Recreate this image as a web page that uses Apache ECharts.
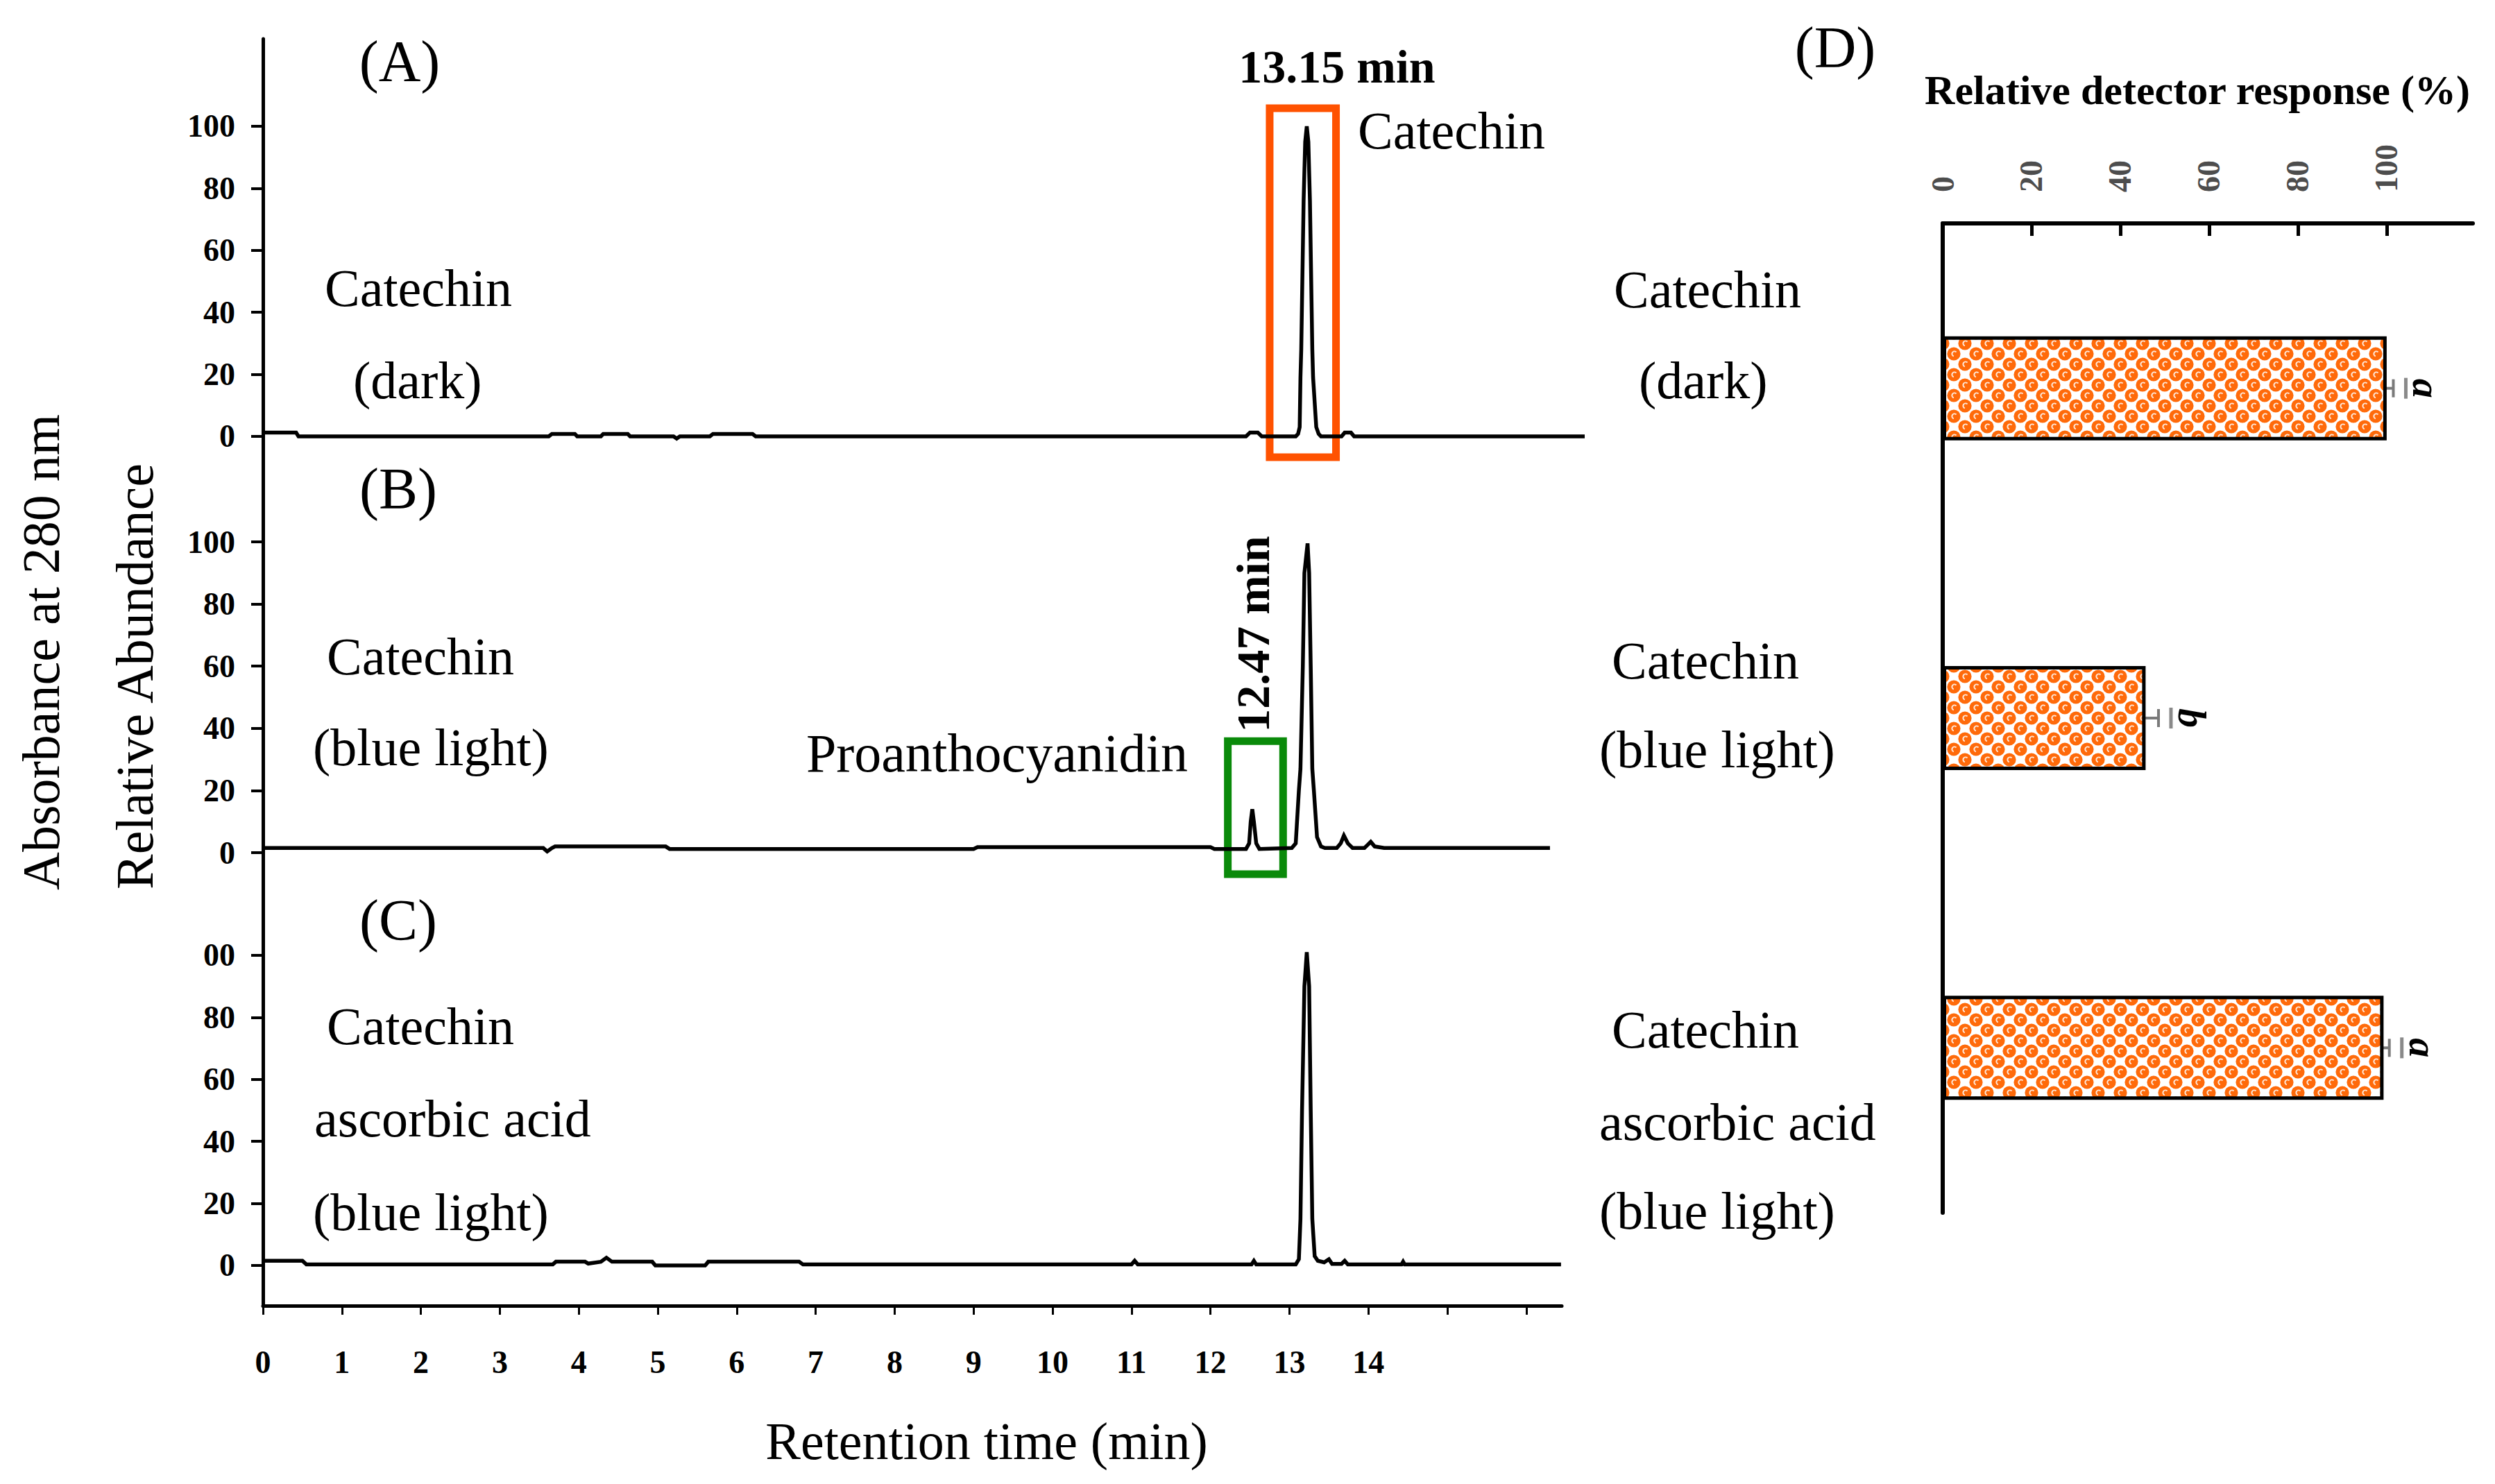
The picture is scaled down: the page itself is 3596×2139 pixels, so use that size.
<!DOCTYPE html>
<html>
<head>
<meta charset="utf-8">
<script src="https://cdn.jsdelivr.net/npm/echarts@6/dist/echarts.min.js"></script>
<style>
html,body{margin:0;padding:0;background:#fff;}
#chart{width:3596px;height:2139px;}
</style>
</head>
<body>
<div id="chart"></div>
<script>
// ---------------- DATA ----------------
// Chromatogram traces: [retention time (min), relative abundance]
const traceA = [
  [0,1.2],[0.42,1.2],[0.45,0],[3.62,0],[3.66,0.8],[3.95,0.8],[3.98,0],[4.28,0],[4.31,0.8],[4.62,0.8],[4.65,0],
  [5.2,0],[5.24,-0.7],[5.28,0],[5.66,0],[5.7,0.8],[6.2,0.8],[6.24,0],[12.45,0],[12.5,1.2],[12.6,1.2],[12.65,0],
  [13.08,0],[13.11,0.8],[13.13,3],[13.14,19],[13.15,28],[13.18,76],[13.2,95],[13.22,100],[13.24,95],[13.26,76],
  [13.29,28],[13.3,19],[13.34,3],[13.37,0.8],[13.4,0],[13.66,0],[13.7,1.2],[13.78,1.2],[13.82,0],[16.74,0]
];
const traceB = [
  [0,1.5],[3.55,1.5],[3.6,0.4],[3.66,1.5],[3.7,2.0],[5.1,2.0],[5.15,1.2],[9.0,1.2],[9.05,1.8],[12.0,1.8],[12.05,1.2],
  [12.45,1.2],[12.49,3],[12.51,10],[12.53,14],[12.55,10],[12.58,3],[12.62,1.2],[13.03,1.5],[13.08,3],[13.12,20],
  [13.14,27],[13.17,60],[13.19,90],[13.23,99.5],[13.25,90],[13.27,60],[13.29,27],[13.31,20],[13.35,5],[13.4,2],
  [13.45,1.5],[13.6,1.5],[13.65,3],[13.69,5.5],[13.74,3],[13.8,1.5],[13.95,1.5],[13.99,2.5],[14.03,3.5],[14.08,2],
  [14.2,1.5],[16.3,1.5]
];
const traceC = [
  [0,1.5],[0.5,1.5],[0.55,0.3],[3.67,0.3],[3.71,1.2],[4.08,1.2],[4.12,0.6],[4.28,1.2],[4.35,2.5],[4.42,1.2],
  [4.93,1.2],[4.97,0],[5.6,0],[5.64,1.2],[6.79,1.2],[6.84,0.3],[11.0,0.3],[11.04,1.5],[11.08,0.3],[12.52,0.3],
  [12.55,1.5],[12.58,0.3],[13.08,0.3],[13.12,2],[13.14,15],[13.16,50],[13.19,90],[13.22,101],[13.25,90],[13.27,50],
  [13.29,15],[13.32,3],[13.36,1.5],[13.44,1],[13.5,2],[13.54,0.5],[13.66,0.5],[13.7,1.5],[13.74,0.3],[14.42,0.3],
  [14.44,1.2],[14.46,0.3],[16.44,0.3]
];
// Highlight boxes [t1, v1, t2, v2]
const boxA = [12.75, 105.8, 13.59, -6.7];
const boxB = [12.22, 35.9, 12.92, -6.9];

// Axis ticks / labels
const xTickValues = [0,1,2,3,4,5,6,7,8,9,10,11,12,13,14,15,16];
const xLabelValues = [0,1,2,3,4,5,6,7,8,9,10,11,12,13,14];
const yTickValues = [0,20,40,60,80,100];
const yTickLabelsAB = ['0','20','40','60','80','100'];
const yTickLabelsC = ['0','20','40','60','80','00'];

// Panel D bar chart
const dCategories = ['Catechin (dark)', 'Catechin (blue light)', 'Catechin ascorbic acid (blue light)'];
const dLabelLines = [['Catechin','(dark)'], ['Catechin','(blue light)'], ['Catechin','ascorbic acid','(blue light)']];
const dValues = [100, 45.7, 99.3];
const dErrors = [1.5, 2.9, 1.3];
const dLetters = ['a', 'b', 'a'];
const dTickValues = [0,20,40,60,80,100];

// ---------------- STYLE ----------------
const SERIF = "'Liberation Serif','Times New Roman',serif";
const chart = echarts.init(document.getElementById('chart'), null, {renderer: 'svg'});

// dotted orange fill tile
function makeTile() {
  const c = document.createElement('canvas');
  c.width = 32; c.height = 30;
  const g = c.getContext('2d');
  g.fillStyle = '#ffffff';
  g.fillRect(0, 0, 32, 30);
  const centers = [[0,0],[32,0],[0,30],[32,30],[16,15]];
  centers.forEach(function (p) {
    g.beginPath(); g.arc(p[0], p[1], 9.6, 0, Math.PI * 2);
    g.fillStyle = '#FF6A0A'; g.fill();
    g.beginPath(); g.arc(p[0] + 1, p[1], 3.6, Math.PI * 0.6, Math.PI * 1.75);
    g.strokeStyle = 'rgba(255,255,255,0.85)'; g.lineWidth = 2; g.stroke();
  });
  return c;
}
const tile = makeTile();

function txt(text, x, y, size, opt) {
  opt = opt || {};
  return {
    type: 'text', x: x, y: y, rotation: opt.rot || 0, silent: true,
    style: {
      text: text, fontSize: size, fontFamily: SERIF,
      fontWeight: opt.bold ? 'bold' : 'normal', fontStyle: 'normal',
      fill: '#000', align: opt.align || 'left', verticalAlign: 'middle'
    }
  };
}

const graphics = [
  txt('(A)', 576, 88, 84, {align: 'center'}),
  txt('13.15 min', 1927, 96, 68, {align: 'center', bold: true}),
  txt('Catechin', 1957, 188, 76),
  txt(dLabelLines[0][0], 468, 415, 76),
  txt(dLabelLines[0][1], 509, 548, 76),
  txt('(B)', 574, 704, 84, {align: 'center'}),
  txt(dLabelLines[1][0], 471, 946, 76),
  txt(dLabelLines[1][1], 451, 1077, 76),
  txt('Proanthocyanidin', 1437, 1085, 78, {align: 'center'}),
  txt('12.47 min', 1806, 914, 68, {align: 'center', bold: true, rot: Math.PI / 2}),
  txt('(C)', 574, 1326, 84, {align: 'center'}),
  txt(dLabelLines[2][0], 471, 1479, 76),
  txt(dLabelLines[2][1], 453, 1612, 76),
  txt(dLabelLines[2][2], 451, 1747, 76),
  txt('Retention time (min)', 1422, 2077, 76, {align: 'center'}),
  txt('Absorbance at 280 nm', 59, 940, 76, {align: 'center', rot: Math.PI / 2}),
  txt('Relative Abundance', 194, 975, 76, {align: 'center', rot: Math.PI / 2}),
  txt('(D)', 2645, 68, 84, {align: 'center'}),
  txt(dLabelLines[0][0], 2326, 417, 76),
  txt(dLabelLines[0][1], 2362, 548, 76),
  txt(dLabelLines[1][0], 2323, 952, 76),
  txt(dLabelLines[1][1], 2305, 1080, 76),
  txt(dLabelLines[2][0], 2323, 1484, 76),
  txt(dLabelLines[2][1], 2305, 1617, 76),
  txt(dLabelLines[2][2], 2305, 1745, 76)
];

const PX = 113.8; // px per minute
const panelGrid = (top, h) => ({left: 379, top: top, width: 16.8 * PX, height: h});

function panelY(gi, labels) {
  return {
    type: 'value', gridIndex: gi, min: -12, max: 110,
    axisLine: {show: false},
    splitLine: {show: false},
    axisTick: {show: true, inside: false, length: 17, customValues: yTickValues,
               lineStyle: {color: '#000', width: 4}},
    axisLabel: {show: true, customValues: yTickValues, margin: 40,
                fontFamily: SERIF, fontWeight: 'bold', fontSize: 46, color: '#000',
                formatter: function (v) { const i = yTickValues.indexOf(v); return i >= 0 ? labels[i] : ''; }}
  };
}
function panelX(gi) {
  return {type: 'value', gridIndex: gi, min: 0, max: 16.8, show: false, splitLine: {show: false}};
}
function traceSeries(idx, data, box, boxColor) {
  const s = {
    type: 'line', xAxisIndex: idx, yAxisIndex: idx, data: data,
    showSymbol: false, symbol: 'none', silent: true, clip: false,
    lineStyle: {color: '#000', width: 5.5, join: 'miter'}
  };
  if (box) {
    s.markArea = {
      silent: true,
      itemStyle: {color: 'rgba(0,0,0,0)', borderColor: boxColor, borderWidth: 11},
      label: {show: false},
      data: [[{coord: [box[0], box[1]]}, {coord: [box[2], box[3]]}]]
    };
  }
  return s;
}

const option = {
  animation: false,
  backgroundColor: '#fff',
  grid: [
    {left: 379, top: 56, width: 16.45 * PX, height: 1826},
    panelGrid(137.3, 545.3),
    panelGrid(736.2, 546.6),
    panelGrid(1332.3, 545.3),
    {left: 2800, top: 322, width: 764, height: 1426}
  ],
  xAxis: [
    {
      type: 'value', gridIndex: 0, min: 0, max: 16.45, position: 'bottom',
      axisLine: {show: true, onZero: false, lineStyle: {color: '#000', width: 5}},
      splitLine: {show: false},
      axisTick: {show: true, inside: false, length: 13, customValues: xTickValues, lineStyle: {color: '#000', width: 3}},
      axisLabel: {show: true, customValues: xLabelValues, margin: 58,
                  fontFamily: SERIF, fontWeight: 'bold', fontSize: 46, color: '#000'}
    },
    panelX(1), panelX(2), panelX(3),
    {
      type: 'value', gridIndex: 4, min: 0, max: 119.4, position: 'top',
      name: 'Relative detector response (%)', nameLocation: 'middle', nameGap: 162,
      nameTextStyle: {fontFamily: SERIF, fontWeight: 'bold', fontSize: 60, color: '#000', padding: [0, 30, 0, 0]},
      axisLine: {show: true, onZero: false, lineStyle: {color: '#000', width: 6}},
      splitLine: {show: false},
      axisTick: {show: true, inside: true, length: 18, customValues: dTickValues, lineStyle: {color: '#000', width: 5}},
      axisLabel: {show: true, customValues: dTickValues, rotate: -90, margin: 45,
                  fontFamily: SERIF, fontWeight: 'bold', fontSize: 46, color: '#4d4d4d'}
    }
  ],
  yAxis: [
    {
      type: 'value', gridIndex: 0, min: 0, max: 1,
      axisLine: {show: true, onZero: false, lineStyle: {color: '#000', width: 5}},
      axisTick: {show: false}, axisLabel: {show: false}, splitLine: {show: false}
    },
    panelY(1, yTickLabelsAB),
    panelY(2, yTickLabelsAB),
    panelY(3, yTickLabelsC),
    {
      type: 'category', gridIndex: 4, data: dCategories, inverse: true,
      axisLine: {show: true, onZero: false, lineStyle: {color: '#000', width: 6}},
      axisTick: {show: false}, axisLabel: {show: false}, splitLine: {show: false}
    }
  ],
  series: [
    traceSeries(1, traceA, boxA, '#FF5200'),
    traceSeries(2, traceB, boxB, '#0A8A0A'),
    traceSeries(3, traceC, null, null),
    {
      type: 'bar', xAxisIndex: 4, yAxisIndex: 4, data: dValues, barWidth: 150, silent: true,
      itemStyle: {
        color: {image: tile, repeat: 'repeat'},
        borderColor: '#000', borderWidth: 5
      }
    },
    {
      type: 'custom', xAxisIndex: 4, yAxisIndex: 4, silent: true,
      data: dValues.map((v, i) => [v, i, dErrors[i]]),
      encode: {x: 0, y: 1},
      renderItem: function (params, api) {
        const v = api.value(0), ci = api.value(1), e = api.value(2);
        const lo = api.coord([v - e, ci]);
        const hi = api.coord([v + e, ci]);
        const y = lo[1];
        const st = {stroke: '#7a7a7a', lineWidth: 4};
        return {
          type: 'group',
          children: [
            {type: 'line', shape: {x1: lo[0], y1: y, x2: hi[0], y2: y}, style: st},
            {type: 'line', shape: {x1: lo[0], y1: y - 13, x2: lo[0], y2: y + 13}, style: st},
            {type: 'line', shape: {x1: hi[0], y1: y - 13, x2: hi[0], y2: y + 13}, style: st},
            {type: 'line', shape: {x1: hi[0] + 18, y1: y - 15, x2: hi[0] + 18, y2: y + 15}, style: {stroke: '#8a8a8a', lineWidth: 5}},
            {type: 'text', x: hi[0] + 48, y: y, rotation: -Math.PI / 2,
             style: {text: dLetters[params.dataIndex], fontSize: 56, fontWeight: 'bold', fontStyle: 'italic',
                     fontFamily: SERIF, fill: '#000', align: 'center', verticalAlign: 'middle'}}
          ]
        };
      }
    }
  ],
  graphic: graphics
};
chart.setOption(option);
</script>
</body>
</html>
